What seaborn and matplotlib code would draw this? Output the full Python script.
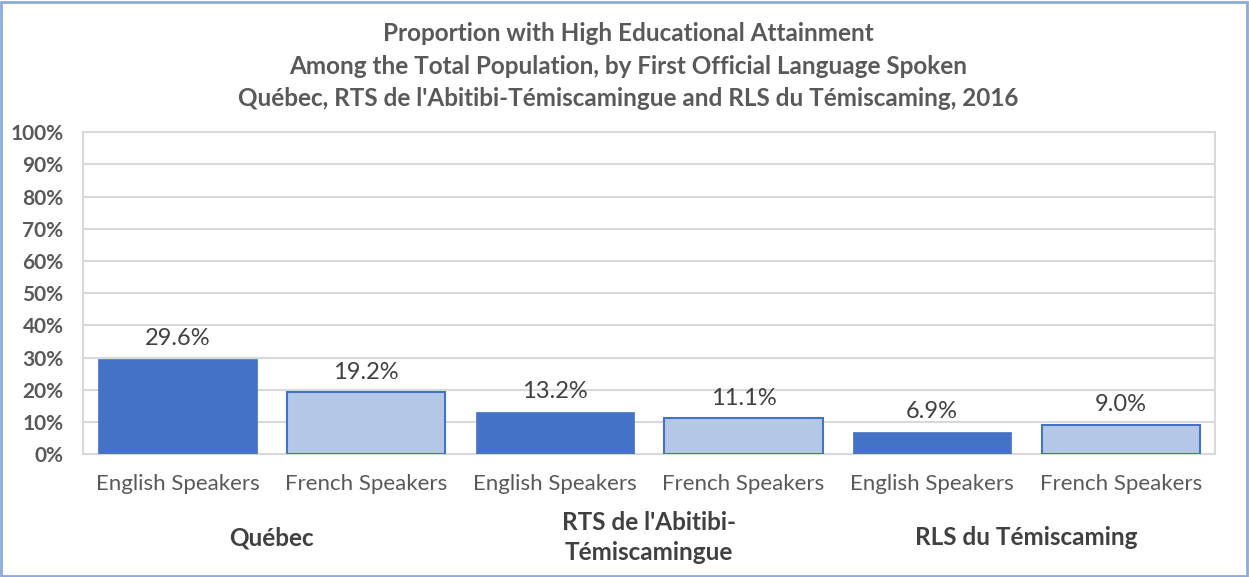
import pandas as pd
import matplotlib.pyplot as plt
import seaborn as sns
from matplotlib.patches import Rectangle
from matplotlib.ticker import PercentFormatter

# Data
regions = ["Québec", "RTS de l'Abitibi-\nTémiscamingue", "RLS du Témiscaming"]
languages = ["English Speakers", "French Speakers"]
english_pct = [29.6, 13.2, 6.9]
french_pct = [19.2, 11.1, 9.0]

rows = []
for i, reg in enumerate(regions):
    rows.append({"region": reg, "lang": languages[0], "value": english_pct[i]})
    rows.append({"region": reg, "lang": languages[1], "value": french_pct[i]})
df = pd.DataFrame(rows)
df["bar"] = [f"{r}|{l}" for r, l in zip(df["region"], df["lang"])]

dark = "#4472C4"
light = "#B4C7E7"
grey_txt = "#595959"

sns.set_style("white")
plt.rcParams["font.family"] = ["Lato", "DejaVu Sans"]

fig = plt.figure(figsize=(12.49, 5.77), dpi=100)
ax = fig.add_axes([0.0665, 0.213, 0.9065, 0.558])

sns.barplot(data=df, x="bar", y="value", hue="lang", dodge=False,
            palette={languages[0]: dark, languages[1]: light}, saturation=1,
            width=0.84, legend=False, ax=ax, zorder=3)

for p, lang in zip(ax.patches, [languages[0]] * 3 + [languages[1]] * 3):
    p.set_edgecolor(dark)
    p.set_linewidth(1.5 if lang == languages[1] else 0.5)

# data labels
for i, v in enumerate(df["value"]):
    ax.text(i, v + 3.0, f"{v:.1f}%", ha="center", va="bottom",
            fontsize=17, color="#404040")

ax.set_ylim(0, 100)
ax.set_xlim(-0.5, len(df) - 0.5)
ax.set_yticks(range(0, 101, 10))
ax.yaxis.set_major_formatter(PercentFormatter(decimals=0))
ax.grid(axis="y", color="#D9D9D9", linewidth=1.5, zorder=0)
for s in ax.spines.values():
    s.set_color("#D9D9D9")
    s.set_linewidth(1.5)

ax.set_xticks(range(len(df)))
ax.set_xticklabels(df["lang"], fontsize=16, color=grey_txt)
ax.tick_params(axis="x", length=0, pad=14)
ax.tick_params(axis="y", length=0, pad=14)
for t in ax.get_yticklabels():
    t.set_fontsize(15)
    t.set_fontweight("bold")
    t.set_color(grey_txt)
ax.set_xlabel("")
ax.set_ylabel("")

# region labels under each pair
trans = ax.get_xaxis_transform()
for i, reg in enumerate(regions):
    ax.text(2 * i + 0.5, -0.26, reg, transform=trans, ha="center", va="center",
            fontsize=17.5, fontweight="bold", color="#404040", linespacing=1.35)

fig.text(0.503, 0.885,
         "Proportion with High Educational Attainment\n"
         "Among the Total Population, by First Official Language Spoken\n"
         "Québec, RTS de l'Abitibi-Témiscamingue and RLS du Témiscaming, 2016",
         ha="center", va="center", fontsize=17.5, fontweight="bold",
         color=grey_txt, linespacing=1.5)

fig.patches.append(Rectangle((0.001, 0.002), 0.997, 0.995, transform=fig.transFigure,
                             fill=False, edgecolor="#8EA9DB", linewidth=2))

plt.savefig("out.png", dpi=100)
plt.close()
